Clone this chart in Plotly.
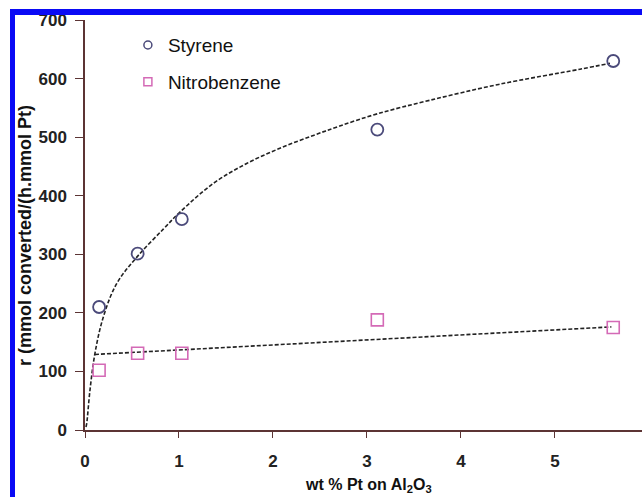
import plotly.graph_objects as go

# Data
wt_pt = [0.15, 0.56, 1.03, 3.11, 5.62]
styrene = [210, 301, 360, 513, 630]
nitrobenzene = [102, 131, 131, 188, 175]

# Trend curves
styrene_fit_x = [0.01, 0.018, 0.053, 0.106, 0.195, 0.337, 0.556, 0.833, 1.011, 1.365,
                 1.72, 2.074, 2.43, 2.71, 3.114, 3.67, 4.4, 5.266, 5.585]
styrene_fit_y = [5, 11, 68, 131, 193, 250, 296, 343, 372, 421,
                 455, 481, 503, 519, 540, 563, 590, 616, 626]
nitro_fit_x = [0.106, 5.6]
nitro_fit_y = [129, 176]

x_ticks = [0, 1, 2, 3, 4, 5]
y_ticks = [0, 100, 200, 300, 400, 500, 600, 700]

STY_COLOR = "#4b4a7a"
NIT_COLOR = "#d46ab6"
AXIS_COLOR = "#5c3434"
BLUE = "#0a0af5"
FONT = "Liberation Sans, Arial, sans-serif"

# pixel layout helpers (plot area: left 85, top 20, width 557, height 410)
PL, PT, PW, PH = 85, 20, 557, 410


def px_x(p):
    return (p - PL) / PW


def px_y(p):
    return (PT + PH - p) / PH


fig = go.Figure()

fig.add_trace(go.Scatter(x=styrene_fit_x, y=styrene_fit_y, mode="lines",
                         line=dict(color="#222222", width=1.6, dash="4px,2px",
                                   shape="spline", smoothing=1.0),
                         showlegend=False, hoverinfo="skip"))
fig.add_trace(go.Scatter(x=nitro_fit_x, y=nitro_fit_y, mode="lines",
                         line=dict(color="#222222", width=1.6, dash="4px,2px"),
                         showlegend=False, hoverinfo="skip"))

fig.add_trace(go.Scatter(x=wt_pt, y=styrene, mode="markers", showlegend=False,
                         marker=dict(symbol="circle-open", size=12, color=STY_COLOR,
                                     line=dict(width=1.8, color=STY_COLOR))))
fig.add_trace(go.Scatter(x=wt_pt, y=nitrobenzene, mode="markers", showlegend=False,
                         marker=dict(symbol="square-open", size=12, color=NIT_COLOR,
                                     line=dict(width=1.6, color=NIT_COLOR))))

# legend-only entries with smaller symbols
fig.add_trace(go.Scatter(x=[None], y=[None], mode="markers", name="Styrene",
                         legendgroup="s",
                         marker=dict(symbol="circle-open", size=8, color=STY_COLOR,
                                     line=dict(width=1.5, color=STY_COLOR))))
fig.add_trace(go.Scatter(x=[None], y=[None], mode="markers", name="Nitrobenzene",
                         legendgroup="n",
                         marker=dict(symbol="square-open", size=8, color=NIT_COLOR,
                                     line=dict(width=1.5, color=NIT_COLOR))))

fig.update_layout(
    width=642, height=497, autosize=False,
    margin=dict(l=PL, r=642 - PL - PW, t=PT, b=497 - PT - PH, pad=0, autoexpand=False),
    paper_bgcolor="white", plot_bgcolor="white",
    font=dict(family=FONT, color="#1a1a1a"),
    legend=dict(x=0.077, y=0.985, xanchor="left", yanchor="top",
                bgcolor="rgba(0,0,0,0)", font=dict(size=19, color="#111111"),
                traceorder="grouped", tracegroupgap=9, itemwidth=30),
    xaxis=dict(range=[0, 5.926], tickvals=x_ticks, showline=True, linecolor=AXIS_COLOR,
               linewidth=1.5, ticks="outside", ticklen=6, tickcolor=AXIS_COLOR,
               tickwidth=1.2, showgrid=False, zeroline=False, automargin=False,
               tickfont=dict(size=17, weight="bold", color="#222222"),
               ticklabelstandoff=9),
    yaxis=dict(range=[0, 700], tickvals=y_ticks, showline=True, linecolor=AXIS_COLOR,
               linewidth=1.5, ticks="outside", ticklen=8, tickcolor=AXIS_COLOR,
               tickwidth=1.2, showgrid=False, zeroline=False, automargin=False,
               tickfont=dict(size=17, weight="bold", color="#222222"),
               ticklabelstandoff=5),
    annotations=[
        dict(text="r (mmol converted/(h.mmol Pt)", textangle=-90, showarrow=False,
             xref="paper", yref="paper", x=px_x(25), y=px_y(236),
             xanchor="center", yanchor="middle",
             font=dict(size=18, weight="bold", color="#111111")),
        dict(text="wt % Pt on Al<sub>2</sub>O<sub>3</sub>", showarrow=False,
             xref="paper", yref="paper", x=px_x(368), y=px_y(497),
             xanchor="center", yanchor="bottom",
             font=dict(size=16, weight="bold", color="#111111")),
    ],
    shapes=[
        dict(type="rect", xref="paper", yref="paper", layer="above",
             x0=px_x(10), x1=px_x(15), y0=px_y(497), y1=px_y(9),
             fillcolor=BLUE, line=dict(width=0)),
        dict(type="rect", xref="paper", yref="paper", layer="above",
             x0=px_x(10), x1=px_x(642), y0=px_y(15), y1=px_y(9),
             fillcolor=BLUE, line=dict(width=0)),
    ],
)

fig.write_html("out.html")
